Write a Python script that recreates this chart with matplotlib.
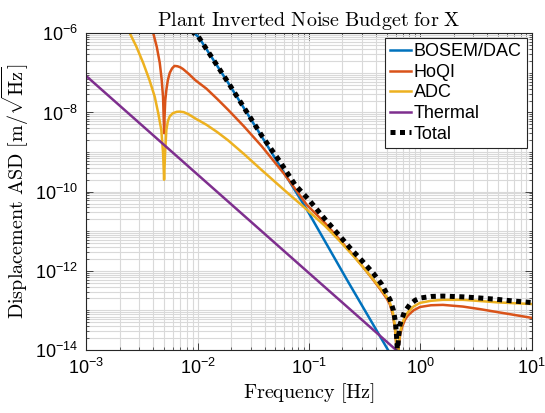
import numpy as np
import matplotlib
matplotlib.use('Agg')
import matplotlib.pyplot as plt
from matplotlib.ticker import FixedLocator, FuncFormatter, NullFormatter

plt.rcParams['font.family'] = ['Liberation Sans', 'DejaVu Sans']
plt.rcParams['mathtext.fontset'] = 'cm'

# values (frequency in Hz, ASD in m/rtHz)
bosem_f = [8e-3, 9.3e-3, 1.02e-2, 1.89e-2, 3.77e-2, 9.6e-2, 0.22, 0.514, 0.7]
bosem_asd = [1.9e-6, 1e-6, 8.1e-7, 5.5e-8, 2.45e-9, 3.5e-11, 5.9e-13, 1e-14, 2.1e-15]

hoqi_f = [3.7e-3, 4.0e-3, 4.3e-3, 4.57e-3, 4.75e-3, 4.89e-3, 4.97e-3, 5.0e-3, 5.05e-3,
          5.12e-3, 5.24e-3, 5.4e-3, 5.62e-3, 5.9e-3, 6.2e-3, 6.6e-3, 7.0e-3, 7.4e-3,
          8.3e-3, 9.5e-3, 1.2e-2, 1.5e-2, 1.89e-2, 2.6e-2, 3.77e-2, 6e-2, 9.6e-2,
          0.14, 0.19, 0.25, 0.306, 0.37, 0.435, 0.5, 0.535, 0.57, 0.594, 0.612, 0.625,
          0.64, 0.66, 0.687, 0.73, 0.777, 0.87, 0.995, 1.25, 1.6, 2.42, 3.5, 4.9, 7, 10]
hoqi_asd = [3e-6, 1e-6, 4.5e-7, 1.8e-7, 7e-8, 2.5e-8, 6e-9, 3e-9, 8e-9,
            2e-8, 3.7e-8, 6.5e-8, 1e-7, 1.3e-7, 1.5e-7, 1.47e-7, 1.38e-7, 1.25e-7,
            9.5e-8, 6.6e-8, 4e-8, 2.2e-8, 1.15e-8, 4.5e-9, 1.4e-9, 2.8e-10, 4.6e-11,
            1.6e-11, 6e-12, 2.5e-12, 1.25e-12, 6.4e-13, 3.5e-13, 2e-13, 1.4e-13, 7.5e-14,
            3.3e-14, 1.1e-14, 2e-15,
            1.2e-14, 2.4e-14, 3.8e-14, 5.8e-14, 7.5e-14, 1e-13, 1.22e-13, 1.35e-13, 1.38e-13,
            1.25e-13, 1.07e-13, 9.1e-14, 7.7e-14, 6.5e-14]

adc_f = [2.2e-3, 2.46e-3, 2.8e-3, 3.24e-3, 3.7e-3, 4.12e-3, 4.45e-3, 4.72e-3, 4.9e-3,
         5.0e-3, 5.1e-3, 5.24e-3, 5.4e-3, 5.62e-3, 6.0e-3, 6.5e-3, 6.9e-3, 7.5e-3,
         8.3e-3, 9.5e-3, 1.2e-2, 1.5e-2, 1.87e-2, 2.6e-2, 3.77e-2, 6e-2, 9.6e-2,
         0.14, 0.19, 0.25, 0.306, 0.37, 0.435, 0.5, 0.535, 0.57, 0.594, 0.612, 0.625,
         0.64, 0.66, 0.687, 0.73, 0.777, 0.87, 0.995, 1.25, 1.6, 2.42, 3.5, 4.9, 7, 10]
adc_asd = [1.75e-6, 1e-6, 4.8e-7, 1.8e-7, 6.5e-8, 2.5e-8, 9e-9, 3.6e-9, 9e-10,
           2e-10, 9e-10, 3.6e-9, 6e-9, 8e-9, 9.6e-9, 1.04e-8, 1.05e-8, 1.02e-8,
           9e-9, 7.1e-9, 4.9e-9, 3.2e-9, 2.0e-9, 9.0e-10, 3.5e-10, 1.1e-10, 3.5e-11,
           1.35e-11, 5.6e-12, 2.4e-12, 1.25e-12, 6.6e-13, 3.7e-13, 2.2e-13, 1.55e-13, 8.5e-14,
           3.8e-14, 1.3e-14, 2e-15,
           1.4e-14, 2.8e-14, 4.5e-14, 7e-14, 9.1e-14, 1.25e-13, 1.55e-13, 1.75e-13, 1.85e-13,
           1.85e-13, 1.72e-13, 1.6e-13, 1.52e-13, 1.45e-13]

thermal_f = [1e-3, 1e-2, 1e-1, 1.0]
thermal_asd = [8.3e-8, 2.7e-10, 8.8e-13, 2.9e-15]

total_f = [8e-3, 9.3e-3, 1.02e-2, 1.89e-2, 3.77e-2, 5.5e-2, 7.5e-2, 0.1, 0.14, 0.19,
           0.234, 0.3, 0.379, 0.45, 0.536, 0.575, 0.6, 0.615, 0.625, 0.64, 0.66, 0.72,
           0.805, 0.9, 0.995, 1.25, 1.6, 2.42, 3.5, 4.9, 7, 10]
total_asd = [1.9e-6, 1e-6, 8.1e-7, 5.6e-8, 2.6e-9, 5.7e-10, 1.5e-10, 6.2e-11, 2.0e-11, 7.5e-12,
             3.8e-12, 1.8e-12, 8.7e-13, 4.6e-13, 1.86e-13, 1.0e-13, 5e-14, 2e-14, 8e-15, 2.2e-14,
             4.5e-14, 9e-14, 1.4e-13, 1.8e-13, 2.05e-13, 2.25e-13, 2.3e-13, 2.2e-13, 2.05e-13,
             1.9e-13, 1.72e-13, 1.58e-13]

fig = plt.figure(figsize=(5.45, 4.13), dpi=100)
ax = fig.add_axes([86.3 / 545, 63 / 413, 445.2 / 545, 316.7 / 413])

lw = 1.8
ax.loglog(bosem_f, bosem_asd, color='#0072BD', lw=lw, label='BOSEM/DAC')
ax.loglog(hoqi_f, hoqi_asd, color='#D95319', lw=lw, label='HoQI')
ax.loglog(adc_f, adc_asd, color='#EDB120', lw=lw, label='ADC')
ax.loglog(thermal_f, thermal_asd, color='#7E2F8E', lw=lw, label='Thermal')
ax.loglog(total_f, total_asd, color='black', lw=3.6, linestyle=(0, (1, 0.9)),
          dash_capstyle='butt', label='Total')

ax.set_xlim(1e-3, 10)
ax.set_ylim(1e-14, 1e-6)

# ticks like MATLAB: y labels every other decade, minor grid everywhere
ax.xaxis.set_major_locator(FixedLocator([1e-3, 1e-2, 1e-1, 1, 10]))
xminor = [k * 10.0**d for d in range(-3, 1) for k in range(2, 10)]
ax.xaxis.set_minor_locator(FixedLocator(xminor))
ax.yaxis.set_major_locator(FixedLocator([10.0**e for e in range(-14, -5, 2)]))
yminor = [k * 10.0**d for d in range(-14, -6) for k in range(1, 10)
          if not (k == 1 and d % 2 == 0)]
ax.yaxis.set_minor_locator(FixedLocator(yminor))
fmt = FuncFormatter(lambda v, p: r'$\mathdefault{10^{%d}}$' % round(np.log10(v)))
ax.xaxis.set_major_formatter(fmt)
ax.yaxis.set_major_formatter(fmt)
ax.xaxis.set_minor_formatter(NullFormatter())
ax.yaxis.set_minor_formatter(NullFormatter())

ax.grid(True, which='both', color='#d9d9d9', lw=0.8)
ax.set_axisbelow(True)
ax.tick_params(which='both', direction='in', top=True, right=True, colors='#262626',
               labelcolor='black', labelsize=13)
ax.tick_params(which='major', length=5, width=0.6, pad=6)
ax.tick_params(which='minor', length=2.5, width=0.5)
for s in ax.spines.values():
    s.set_color('#262626')
    s.set_linewidth(0.8)

ax.set_title(r'$\mathrm{Plant\ Inverted\ Noise\ Budget\ for\ X}$', fontsize=14.5, pad=5)
ax.set_xlabel(r'$\mathrm{Frequency\ [Hz]}$', fontsize=14.5, labelpad=2)
ax.set_ylabel(r'$\mathrm{Displacement\ ASD\ [m/\sqrt{Hz}]}$', fontsize=14.5, labelpad=3)

leg = ax.legend(loc='upper right', fontsize=13, handlelength=1.15, handletextpad=0.15,
                borderaxespad=0.25, borderpad=0.3, labelspacing=0.2, fancybox=False,
                framealpha=1, edgecolor='#262626')
leg.get_frame().set_linewidth(0.8)

fig.savefig('out.png', dpi=100)
